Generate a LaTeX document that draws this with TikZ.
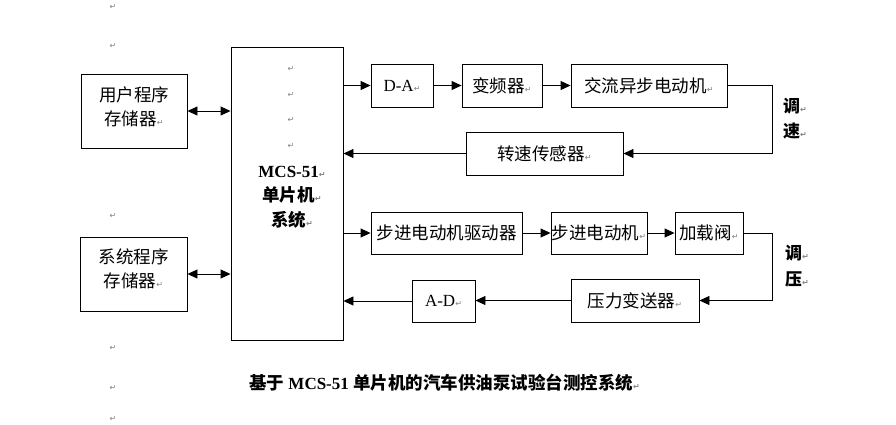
\documentclass[tikz,border=0pt]{standalone}
\usepackage{fontspec}
\setmainfont{Liberation Serif}
\newfontfamily\cjk{Noto Sans CJK SC}
\newfontfamily\djv{DejaVu Sans}
\usetikzlibrary{arrows.meta}
\newcommand\retm{{\djv\fontsize{8}{8}\selectfont\color{black!50}\char"21B5}}
\begin{document}
\begin{tikzpicture}[x=1pt,y=-1pt,
  box/.style={draw, line width=0.9pt, inner sep=0pt, align=center,
    font=\cjk\fontsize{17.5}{24}\selectfont},
  conn/.style={line width=0.9pt, -{Triangle[length=10pt,width=9pt]}},
  biconn/.style={line width=0.9pt, {Triangle[length=10pt,width=9pt]}-{Triangle[length=10pt,width=9pt]}},
  pmark/.style={inner sep=0pt},
  lab/.style={inner sep=0pt, anchor=west, font=\cjk\bfseries\fontsize{17}{17}\selectfont}]
\useasboundingbox (0,0) rectangle (896,424);

% boxes
\node[box, minimum width=106pt, minimum height=74pt, text depth=10pt] (user) at (134,111) {用户程序\\存储器\retm};
\node[box, minimum width=107pt, minimum height=74pt, text depth=11pt] (sys) at (133.5,274) {系统程序\\存储器\retm};
\node[box, minimum width=112pt, minimum height=293pt] (mcs) at (287,193.5) {};
\node[box, minimum width=62pt, minimum height=43pt] (da) at (402,85.5) {{\rmfamily\fontsize{17}{17}\selectfont D-A}\retm};
\node[box, minimum width=80pt, minimum height=43pt] (bpq) at (502,85.5) {变频器\retm};
\node[box, minimum width=156pt, minimum height=43pt] (jl) at (649,85.5) {交流异步电动机\retm};
\node[box, minimum width=157pt, minimum height=43pt] (zs) at (544.5,153.5) {转速传感器\retm};
\node[box, minimum width=151pt, minimum height=42pt] (qd) at (446.5,233) {步进电动机驱动器};
\node[box, minimum width=96pt, minimum height=42pt] (bj) at (599,233) {步进电动机\retm};
\node[box, minimum width=68pt, minimum height=42pt] (jz) at (709,233) {加载阀\retm};
\node[box, minimum width=128pt, minimum height=43pt] (yl) at (635,300.5) {压力变送器\retm};
\node[box, minimum width=63pt, minimum height=42pt] (ad) at (443.5,301) {{\rmfamily\fontsize{17}{17}\selectfont A-D}\retm};

% MCS text
\node[inner sep=0pt, align=center, font=\bfseries\fontsize{17}{24.5}\selectfont] (mcst) at (292,197)
  {MCS-51\retm\\{\cjk\fontsize{17.5}{24.5}\selectfont 单片机}\retm\\{\cjk\fontsize{17.5}{24.5}\selectfont 系统}\retm};

% connectors
\draw[biconn] (user.east) -- (user.east -| mcs.west);
\draw[biconn] (sys.east) -- (sys.east -| mcs.west);
\draw[conn] (mcs.east |- da.west) -- (da.west);
\draw[conn] (da) -- (bpq);
\draw[conn] (bpq) -- (jl);
\draw[conn] (jl.east) -- ++(45,0) |- (zs.east);
\draw[conn] (zs.west) -- (zs.west -| mcs.east);
\draw[conn] (mcs.east |- qd.west) -- (qd.west);
\draw[conn] (qd) -- (bj);
\draw[conn] (bj) -- (jz);
\draw[conn] (jz.east) -- ++(29,0) |- (yl.east);
\draw[conn] (yl.west) -- (yl.west -| ad.east);
\draw[conn] (ad.west) -- (ad.west -| mcs.east);

% side labels
\node[lab] (t1) at (783,106.5) {调\retm};
\node[lab] (t2) at (783,131.5) {速\retm};
\node[lab] (t3) at (785,253.5) {调\retm};
\node[lab] (t4) at (785,279.5) {压\retm};

% caption
\node[anchor=west, inner sep=0pt, font=\bfseries\fontsize{17}{17}\selectfont] (cap) at (249,383)
  {{\cjk\fontsize{17.5}{17}\selectfont 基于} MCS-51 {\cjk\fontsize{17.5}{17}\selectfont 单片机的汽车供油泵试验台测控系统}\retm};

% paragraph marks
\node[pmark] (p1) at (113,7) {\retm};
\node[pmark] (p2) at (113,46) {\retm};
\node[pmark] (p3) at (113,216) {\retm};
\node[pmark] (p4) at (113,348) {\retm};
\node[pmark] (p5) at (113,388) {\retm};
\node[pmark] (p6) at (113,419) {\retm};
\node[pmark] (p7) at (291,69) {\retm};
\node[pmark] (p8) at (291,95) {\retm};
\node[pmark] (p9) at (291,120) {\retm};
\node[pmark] (p10) at (291,146) {\retm};
\end{tikzpicture}
\end{document}
